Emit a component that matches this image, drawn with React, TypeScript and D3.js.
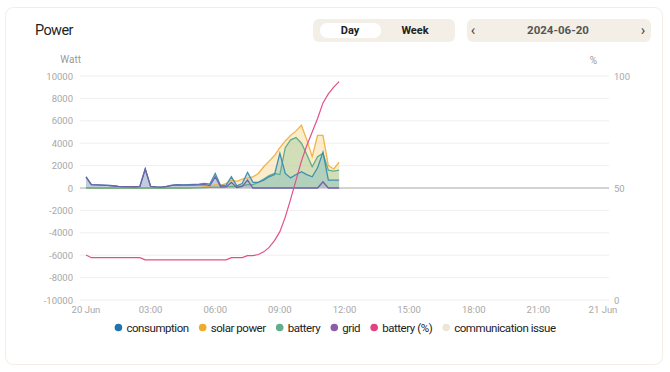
import * as d3 from "d3";

// 15-minute samples from 00:00 to 11:45 on 2024-06-20
const times = d3.range(48).map((i) => new Date(2024, 5, 20, 0, i * 15));

const consumption = [1000, 300, 280, 250, 230, 200, 150, 130, 120, 110, 150, 1700, 150, 100, 80, 150, 250, 300, 280, 300, 320, 350, 400, 350, 1300, 200, 250, 1000, 200, 400, 1400, 500, 500, 700, 1000, 1200, 3100, 1300, 900, 1200, 1450, 1200, 1000, 1800, 3200, 700, 700, 700];
const solar = [0, 0, 0, 0, 0, 0, 0, 0, 0, 0, 0, 0, 0, 0, 0, 0, 0, 0, 0, 0, 20, 50, 100, 150, 300, 250, 400, 700, 600, 800, 900, 1000, 1300, 1900, 2400, 2900, 3600, 4200, 4700, 5100, 5600, 4300, 2800, 4700, 4700, 2000, 1700, 2300];
const battery = [0, 0, 0, 0, 0, 0, 0, 0, 0, 0, 0, 0, 0, 0, 0, 0, 0, 0, 0, 0, 10, 20, 40, 60, 80, 60, 100, 150, 120, 200, 300, 300, 500, 800, 1100, 1300, 1200, 3600, 4300, 4500, 4000, 3000, 1900, 2800, 3100, 1600, 1500, 1600];
const grid = [1000, 300, 280, 250, 230, 200, 150, 130, 120, 110, 150, 1700, 150, 100, 80, 150, 230, 270, 250, 260, 270, 280, 300, 220, 1000, 100, 100, 500, 50, 150, 700, 0, 0, 0, 0, 0, 0, 0, 0, 0, 0, 0, 0, 0, 560, 0, 0, 0];
const batteryPct = [20.1, 18.9, 18.9, 18.9, 18.9, 18.9, 18.9, 18.9, 18.9, 18.9, 18.9, 17.9, 17.9, 17.9, 17.9, 17.9, 17.9, 17.9, 17.9, 17.9, 17.9, 17.9, 17.9, 17.9, 17.9, 17.9, 17.9, 18.9, 18.9, 18.9, 19.8, 19.8, 20.3, 21.5, 23.5, 26.5, 30.5, 37, 45, 53.5, 62, 69, 75, 81, 88, 92, 95, 97.5];

const wattTicks = [10000, 8000, 6000, 4000, 2000, 0, -2000, -4000, -6000, -8000, -10000];
const pctTicks = [100, 50, 0];
const xTickHours = [0, 3, 6, 9, 12, 15, 18, 21, 24];

const legendItems = [
  { name: "consumption", color: "#2273ad" },
  { name: "solar power", color: "#f0aa2c" },
  { name: "battery", color: "#5fae8c" },
  { name: "grid", color: "#8a5ea8" },
  { name: "battery (%)", color: "#e2457e" },
  { name: "communication issue", color: "#ece6d8" },
];

const FONT = "Roboto, Inter, sans-serif";
const LEGEND_SIZE = 11.5;
const LEGEND_LS = -0.45;

function measure(text: string, size: number, ls: number) {
  const ctx = document.createElement("canvas").getContext("2d");
  if (!ctx) return text.length * size * 0.5;
  ctx.font = `${size}px ${FONT}`;
  return ctx.measureText(text).width + ls * text.length;
}

export default function App() {
  const x = d3
    .scaleTime()
    .domain([new Date(2024, 5, 20, 0), new Date(2024, 5, 21, 0)])
    .range([86, 603]);
  const y = d3.scaleLinear().domain([-10000, 10000]).range([300, 76]);
  const yPct = d3.scaleLinear().domain([0, 100]).range([300, 76]);

  const area = (vals: number[]) =>
    d3
      .area<number>()
      .x((_, i) => x(times[i]))
      .y0(y(0))
      .y1((d) => y(d))(vals) as string;
  const line = (vals: number[]) =>
    d3
      .line<number>()
      .x((_, i) => x(times[i]))
      .y((d) => y(d))(vals) as string;
  const pctLine = d3
    .line<number>()
    .x((_, i) => x(times[i]))
    .y((d) => yPct(d))(batteryPct) as string;

  const series = [
    { vals: solar, stroke: "#f0b449", fill: "#f6d58e" },
    { vals: battery, stroke: "#62ad8a", fill: "#9fcf9f" },
    { vals: consumption, stroke: "#3f8fb0", fill: "#8cc0c0" },
    { vals: grid, stroke: "#6e62a8", fill: "#b7b0dc" },
  ];

  // legend layout: dot + label + gap
  const legendWidths = legendItems.map((d) => 8 + measure(d.name, LEGEND_SIZE, LEGEND_LS) + 14);
  const legendTotal = d3.sum(legendWidths) - 14 + 4;
  let lx = 335 - legendTotal / 2;

  return (
    <svg
      width={670}
      height={372}
      style={{ position: "absolute", left: 0, top: 0, fontFamily: FONT }}
    >
      <rect x={0} y={0} width={670} height={372} fill="#fff" />
      <rect x={5.5} y={7.5} width={657} height={357} rx={8} fill="#fff" stroke="#f2eee4" />

      <text x={35} y={35} fontSize={14.5} letterSpacing={-0.6} fill="#1f1f1f">Power</text>

      {/* Day / Week toggle */}
      <rect x={313} y={19} width={142} height={23} rx={6} fill="#f3efe6" />
      <rect x={320} y={23} width={61} height={15} rx={7} fill="#fff" />
      <text x={350} y={34} fontSize={11} fontWeight={700} textAnchor="middle" fill="#222">Day</text>
      <text x={415} y={34} fontSize={11} fontWeight={700} textAnchor="middle" fill="#222">Week</text>

      {/* date picker */}
      <rect x={467} y={19} width={184} height={23} rx={6} fill="#f3efe6" />
      <text x={473} y={35} fontSize={15} textAnchor="middle" fill="#444">‹</text>
      <text x={558} y={34} fontSize={11.5} fontWeight={700} textAnchor="middle" fill="#555">2024-06-20</text>
      <text x={643} y={35} fontSize={15} textAnchor="middle" fill="#444">›</text>

      {/* axes titles */}
      <text x={81} y={63} fontSize={10} textAnchor="end" fill="#9a9a9a">Watt</text>
      <text x={597} y={64} fontSize={10} textAnchor="end" fill="#9a9a9a">%</text>

      {wattTicks.map((t) => (
        <g key={t}>
          <line x1={80} x2={609} y1={y(t)} y2={y(t)} stroke={t === 0 ? "#a8a8a8" : "#efefef"} strokeWidth={1} />
          <text x={73} y={y(t) + 3.5} fontSize={9.5} textAnchor="end" fill="#a8a8a8">{t}</text>
        </g>
      ))}
      {pctTicks.map((t) => (
        <text key={t} x={614} y={yPct(t) + 3.5} fontSize={9.5} fill="#a8a8a8">{t}</text>
      ))}
      {xTickHours.map((h) => {
        const d = new Date(2024, 5, 20, h);
        const label = h % 24 === 0 ? d3.timeFormat("%-d Jun")(d) : d3.timeFormat("%H:%M")(d);
        return (
          <text key={h} x={x(d)} y={313} fontSize={9.5} textAnchor="middle" fill="#a8a8a8">{label}</text>
        );
      })}

      {series.map((s, i) => (
        <path key={"a" + i} d={area(s.vals)} fill={s.fill} fillOpacity={0.45} />
      ))}
      {series.map((s, i) => (
        <path key={"l" + i} d={line(s.vals)} fill="none" stroke={s.stroke} strokeWidth={1.3} />
      ))}
      <path d={pctLine} fill="none" stroke="#e0518a" strokeWidth={1.2} />

      {/* legend */}
      {legendItems.map((d, i) => {
        const cx = lx + 4;
        lx += legendWidths[i];
        return (
          <g key={d.name}>
            <circle cx={cx} cy={327.5} r={3.8} fill={d.color} />
            <text x={cx + 8} y={331.5} fontSize={LEGEND_SIZE} letterSpacing={LEGEND_LS} fill="#222">{d.name}</text>
          </g>
        );
      })}
    </svg>
  );
}
